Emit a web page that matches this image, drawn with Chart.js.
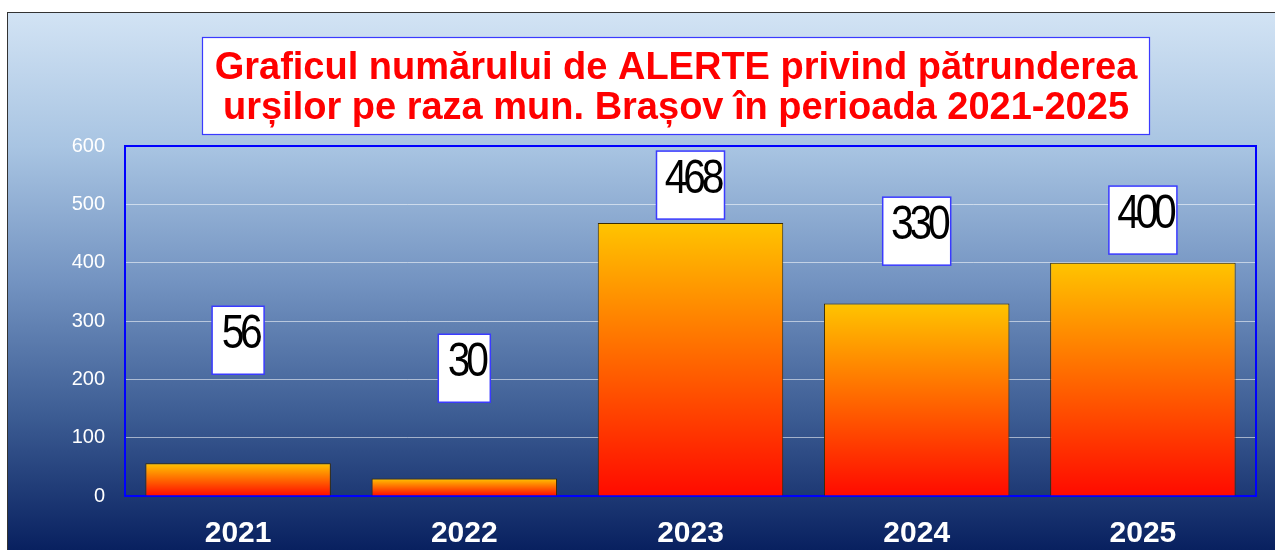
<!DOCTYPE html>
<html><head><meta charset="utf-8">
<script src="https://cdn.jsdelivr.net/npm/chart.js@4/dist/chart.umd.min.js"></script>
<style>
html,body{margin:0;padding:0;background:#fff;width:1275px;height:550px;overflow:hidden;}
#frame{position:absolute;left:7px;top:12px;width:1268px;height:538px;border-left:1px solid #333;border-top:1px solid #333;
background:linear-gradient(to bottom,#d2e3f4 0%,#a8c4e2 25%,#7393c1 50%,#3c5c93 75%,#08205f 100%);}
#c{position:absolute;left:0;top:0;}
</style></head>
<body><div id="frame"><canvas id="c" width="1268" height="538"></canvas></div>
<script>
const categories = ['2021','2022','2023','2024','2025'];
const alerts = [56, 30, 468, 330, 400];
const labelAnchors = [267, 219, 533, 454, 473];
const yTicks = [0,100,200,300,400,500,600];
const titleLines = ['Graficul numărului de ALERTE privind pătrunderea','urșilor pe raza mun. Brașov în perioada 2021-2025'];

const decor = {
  id:'decor',
  beforeDatasetsDraw(chart){
    const ctx=chart.ctx, a=chart.chartArea;
    ctx.save();
    ctx.strokeStyle='#0000ff'; ctx.lineWidth=2;
    ctx.strokeRect(a.left, a.top, a.right-a.left, a.bottom-a.top);
    ctx.restore();
  },
  afterDraw(chart){
    const ctx=chart.ctx, y=chart.scales.y, x=chart.scales.x;
    ctx.save();
    // title box
    ctx.fillStyle='#fff'; ctx.fillRect(194,24,947,97);
    ctx.strokeStyle='#3a3aff'; ctx.lineWidth=1.2; ctx.strokeRect(194.5,24.5,947,97);
    ctx.fillStyle='#ff0000'; ctx.font='bold 38px "Liberation Sans", Arial, sans-serif';
    ctx.textAlign='center'; ctx.textBaseline='middle';
    ctx.fillText(titleLines[0],668,56);
    ctx.fillText(titleLines[1],668,96);
    // value labels
    alerts.forEach((v,i)=>{
      const cx=x.getPixelForValue(i), cy=y.getPixelForValue(labelAnchors[i]);
      const txt=String(v);
      const w=txt.length>2?68:52, h=68;
      ctx.fillStyle='#fff'; ctx.fillRect(cx-w/2,cy-h/2,w,h);
      ctx.strokeStyle='#3a3aff'; ctx.lineWidth=1.5; ctx.strokeRect(cx-w/2,cy-h/2,w,h);
      ctx.save();
      ctx.font='48px "Liberation Sans", Arial, sans-serif';
      ctx.letterSpacing='-5px';
      ctx.translate(cx+2,cy-5); ctx.scale(0.85,1);
      ctx.fillStyle='#000'; ctx.textAlign='center'; ctx.textBaseline='middle';
      ctx.fillText(txt,0,0);
      ctx.restore();
    });
    ctx.restore();
  }
};

new Chart(document.getElementById('c'),{
  type:'bar',
  data:{labels:categories,datasets:[{
    data:alerts,
    backgroundColor(ctx){
      const ch=ctx.chart; const ys=ch.scales.y;
      if(!ch.chartArea||!ys) return '#ff8000';
      const top=ys.getPixelForValue(ctx.raw), bot=ys.getPixelForValue(0);
      const g=ch.ctx.createLinearGradient(0,top,0,bot);
      g.addColorStop(0,'#ffc400'); g.addColorStop(1,'#ff0a00');
      return g;
    },
    borderColor:'#3a2a00', borderWidth:1, borderSkipped:'bottom',
    categoryPercentage:1, barPercentage:0.82
  }]},
  options:{
    responsive:false, animation:false,
    layout:{padding:{top:133,right:20,left:0,bottom:0}},
    plugins:{legend:{display:false},tooltip:{enabled:false},title:{display:false}},
    scales:{
      x:{
        grid:{display:false,drawTicks:false}, border:{display:false},
        ticks:{color:'#fff',font:{family:'"Liberation Sans", Arial, sans-serif',size:30,weight:'bold'},padding:20},
        afterFit(s){s.height=55;}
      },
      y:{
        min:0,max:600,
        afterBuildTicks(s){s.ticks=yTicks.map(v=>({value:v}));},
        grid:{color:'rgba(255,255,255,0.55)',lineWidth:1,drawTicks:false},
        border:{display:false},
        ticks:{color:'#fff',font:{family:'"Liberation Sans", Arial, sans-serif',size:20},padding:20},
        afterFit(s){s.width=117;}
      }
    }
  },
  plugins:[decor]
});
</script></body></html>
